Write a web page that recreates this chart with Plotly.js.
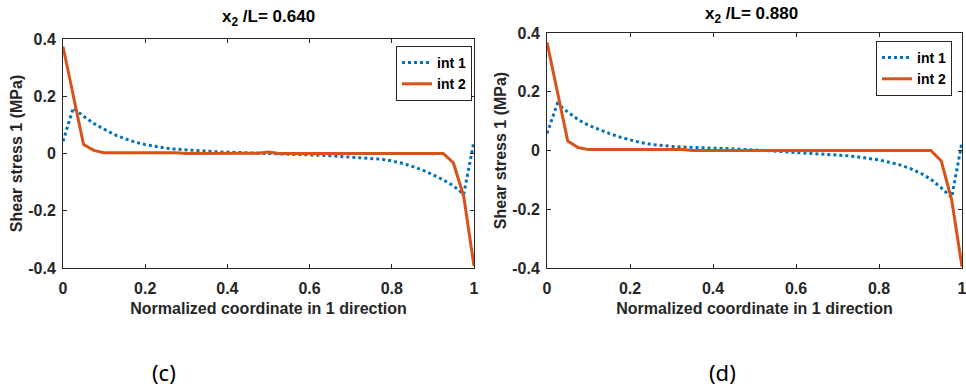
<!DOCTYPE html>
<html>
<head>
<meta charset="utf-8">
<script src="https://cdn.plot.ly/plotly-3.0.1.min.js"></script>
<style>html,body{margin:0;padding:0;background:#fff;}#chart{width:966px;height:388px;}</style>
</head>
<body>
<div id="chart"></div>
<script>
const xCoord = [0,0.025,0.05,0.075,0.1,0.125,0.15,0.175,0.2,0.225,0.25,0.275,0.3,0.325,0.35,0.375,0.4,0.425,0.45,0.475,0.5,0.525,0.55,0.575,0.6,0.625,0.65,0.675,0.7,0.725,0.75,0.775,0.8,0.825,0.85,0.875,0.9,0.925,0.95,0.975,1.0];

const int1_c = [0.043,0.159,0.130,0.105,0.085,0.066,0.052,0.040,0.031,0.024,0.019,0.015,0.012,0.010,0.008,0.006,0.005,0.004,0.003,0.002,0.001,0.000,-0.002,-0.003,-0.005,-0.006,-0.008,-0.010,-0.012,-0.014,-0.017,-0.020,-0.026,-0.034,-0.045,-0.058,-0.074,-0.092,-0.113,-0.143,0.043];
const int2_c = [0.374,0.200,0.031,0.011,0.003,0.003,0.003,0.003,0.003,0.003,0.003,0.003,0.000,0.000,0.000,0.000,0.000,0.000,0.000,0.001,0.005,0.000,0.000,0.000,0.000,0.000,0.000,0.000,0.000,0.000,0.000,0.000,0.000,0.000,0.000,0.000,0.000,0.000,-0.033,-0.150,-0.393];

const int1_d = [0.058,0.160,0.131,0.105,0.086,0.071,0.058,0.046,0.036,0.027,0.021,0.017,0.014,0.012,0.010,0.009,0.008,0.007,0.006,0.004,0.002,0.000,-0.002,-0.004,-0.006,-0.008,-0.010,-0.013,-0.015,-0.018,-0.022,-0.027,-0.032,-0.040,-0.049,-0.061,-0.077,-0.098,-0.127,-0.160,0.028];
const int2_d = [0.368,0.200,0.032,0.010,0.003,0.003,0.003,0.003,0.003,0.003,0.003,0.003,0.003,0.003,0.000,0.000,0.000,0.000,0.000,0.000,0.000,0.000,0.000,0.000,0.000,0.000,0.000,0.000,0.000,0.000,0.000,0.000,0.000,0.000,0.000,0.000,0.000,0.000,-0.036,-0.167,-0.396];

const seriesNames = ["int 1","int 2"];
const panelTitles = ["x<sub>2</sub> /L= 0.640","x<sub>2</sub> /L= 0.880"];
const panelLabels = ["(c)","(d)"];
const xTickVals = [0,0.2,0.4,0.6,0.8,1];
const xTickText = ["0","0.2","0.4","0.6","0.8","1"];
const yTickVals = [-0.4,-0.2,0,0.2,0.4];
const yTickText = ["-0.4","-0.2","0","0.2","0.4"];
const xTitle = "Normalized coordinate in 1 direction";
const yTitle = "Shear stress 1 (MPa)";

const BLUE = "#0072BD", ORANGE = "#D95319";
const F = "Liberation Sans, Arial, sans-serif";
const AX = "#262626";

const traces = [
  {x:xCoord, y:int1_c, name:seriesNames[0], mode:"lines", line:{color:BLUE, width:3, dash:"dot"}, xaxis:"x", yaxis:"y", legend:"legend"},
  {x:xCoord, y:int2_c, name:seriesNames[1], mode:"lines", line:{color:ORANGE, width:3}, xaxis:"x", yaxis:"y", legend:"legend"},
  {x:xCoord, y:int1_d, name:seriesNames[0], mode:"lines", line:{color:BLUE, width:3, dash:"dot"}, xaxis:"x2", yaxis:"y2", legend:"legend2"},
  {x:xCoord, y:int2_d, name:seriesNames[1], mode:"lines", line:{color:ORANGE, width:3}, xaxis:"x2", yaxis:"y2", legend:"legend2"}
];

function xax(dom, anchor){
  return {domain:dom, anchor:anchor, range:[0,1], tickmode:"array", tickvals:xTickVals, ticktext:xTickText,
    ticks:"inside", ticklen:4, tickcolor:AX, showline:true, linecolor:AX, linewidth:1, mirror:"allticks",
    showgrid:false, zeroline:false, ticklabelstandoff:6, ticklabeloverflow:"allow",
    tickfont:{family:F, size:16, color:AX, weight:"bold"},
    title:{text:xTitle, font:{family:F, size:16, color:AX, weight:"bold"}, standoff:6}, automargin:false};
}
function yax(dom, anchor){
  return {domain:dom, anchor:anchor, range:[-0.4,0.4], tickmode:"array", tickvals:yTickVals, ticktext:yTickText,
    ticks:"inside", ticklen:4, tickcolor:AX, showline:true, linecolor:AX, linewidth:1, mirror:"allticks",
    showgrid:false, zeroline:false, ticklabelstandoff:3, ticklabeloverflow:"allow",
    tickfont:{family:F, size:16, color:AX, weight:"bold"},
    title:{text:yTitle, font:{family:F, size:16, color:AX, weight:"bold"}, standoff:1}, automargin:false};
}
function leg(xr, yt){
  return {x:xr, y:yt, xanchor:"right", yanchor:"top", bgcolor:"#fff", bordercolor:AX, borderwidth:1,
    font:{family:F, size:14, color:"#000", weight:"bold"}, tracegroupgap:0, itemwidth:30};
}

const W=966, H=388;
const layout = {
  width:W, height:H, margin:{l:0,r:0,t:0,b:0}, paper_bgcolor:"#fff", plot_bgcolor:"#fff", showlegend:true,
  xaxis: xax([63/W, 474/W], "y"),
  yaxis: yax([1-268/H, 1-39/H], "x"),
  xaxis2: xax([547/W, 962/W], "y2"),
  yaxis2: yax([1-268/H, 1-33/H], "x2"),
  legend: leg(472/W, 1-46/H),
  legend2: leg(952/W, 1-41/H),
  annotations:[
    {text:panelTitles[0], xref:"paper", yref:"paper", x:268/W, y:1-18/H, showarrow:false, xanchor:"center", yanchor:"middle", font:{family:F, size:17, color:"#000", weight:"bold"}},
    {text:panelTitles[1], xref:"paper", yref:"paper", x:751/W, y:1-15/H, showarrow:false, xanchor:"center", yanchor:"middle", font:{family:F, size:17, color:"#000", weight:"bold"}},
    {text:panelLabels[0], xref:"paper", yref:"paper", x:164/W, y:1-372/H, showarrow:false, xanchor:"center", yanchor:"middle", font:{family:"Noto Sans, sans-serif", size:22, color:"#000"}},
    {text:panelLabels[1], xref:"paper", yref:"paper", x:722/W, y:1-372/H, showarrow:false, xanchor:"center", yanchor:"middle", font:{family:"Noto Sans, sans-serif", size:22, color:"#000"}}
  ]
};

Plotly.newPlot("chart", traces, layout, {displayModeBar:false, staticPlot:true});
</script>
</body>
</html>
